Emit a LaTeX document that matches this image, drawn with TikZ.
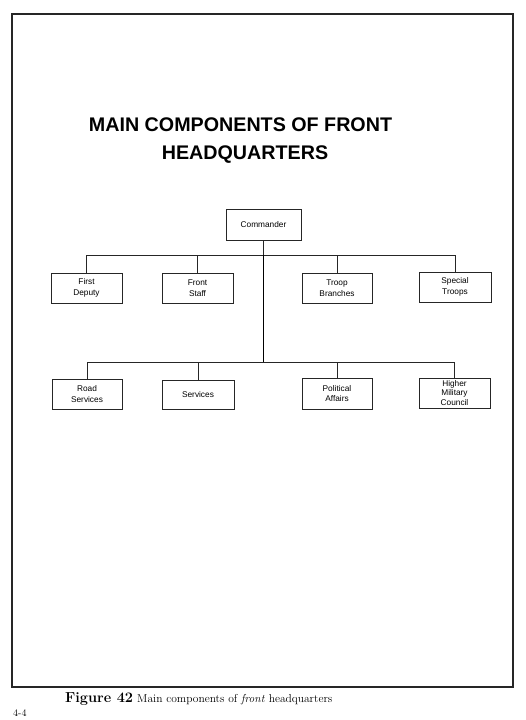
\documentclass[tikz,border=0pt]{standalone}
\usepackage{fontspec}
\newfontfamily\arialf{Liberation Sans}
\begin{document}
\begin{tikzpicture}[x=1pt,y=-1pt,
  box/.style={draw=black!85,line width=0.8pt,rectangle,inner sep=0pt,align=center,
    font=\arialf\fontsize{8.3}{10.5}\selectfont},
  conn/.style={draw=black!85,line width=0.8pt},
  trunk/.style={draw=black,line width=1.6pt}]
\useasboundingbox (0,0) rectangle (526,720);
\fill[white] (0,0) rectangle (526,720);
% frame
\draw[line width=1.2pt,black!85] (12,14) rectangle (513,687);
% title
\node[font=\arialf\bfseries\fontsize{19.7}{24}\selectfont] (t1) at (240.5,125) {MAIN COMPONENTS OF FRONT};
\node[font=\arialf\bfseries\fontsize{19.7}{24}\selectfont] (t2) at (245,155) {HEADQUARTERS};
% boxes
\node[box,minimum width=75pt,minimum height=31pt] (cmd) at (263.5,224.5) {Commander};
\node[box,minimum width=71pt,minimum height=30pt] (fd) at (86.5,288) {First\\Deputy};
\node[box,minimum width=71pt,minimum height=30pt] (fs) at (197.5,288) {Front\\Staff};
\node[box,minimum width=70pt,minimum height=30pt] (tb) at (337,288) {Troop\\Branches};
\node[box,minimum width=72pt,minimum height=30pt] (st) at (455,287) {Special\\Troops};
\node[box,minimum width=70pt,minimum height=30pt] (rs) at (87,394) {Road\\Services};
\node[box,minimum width=72pt,minimum height=29pt] (sv) at (198,394.5) {Services};
\node[box,minimum width=70pt,minimum height=31pt] (pa) at (337,393.5) {Political\\Affairs};
\node[box,minimum width=71pt,minimum height=30pt,font=\arialf\fontsize{8.3}{9.3}\selectfont] (hm) at (454.5,393) {Higher\\Military\\Council};
% connectors
\coordinate (bus1) at (263.5,255);
\coordinate (bus2) at (263.5,362);
\draw[conn] (cmd.south) -- (bus1);
\draw[conn] (fd.north) |- (bus1);
\draw[conn] (st.north) |- (bus1);
\draw[conn] (fs.north) -- (fs.north |- bus1);
\draw[conn] (tb.north) -- (tb.north |- bus1);
\draw[trunk] (bus1) -- (bus2);
\draw[conn] (rs.north) |- (bus2);
\draw[conn] (hm.north) |- (bus2);
\draw[conn] (sv.north) -- (sv.north |- bus2);
\draw[conn] (pa.north) -- (pa.north |- bus2);
% caption
\node[anchor=base west,inner sep=0pt,font=\bfseries\fontsize{14.5}{16}\selectfont] (fig) at (65,702) {Figure 42};
\node[anchor=base west,inner sep=0pt,font=\fontsize{11.5}{13}\selectfont] (cap) at (137,702) {Main components of \textit{front} headquarters};
\node[anchor=base west,inner sep=0pt,font=\fontsize{10}{12}\selectfont] (pg) at (13,716) {4-4};
\end{tikzpicture}
\end{document}
